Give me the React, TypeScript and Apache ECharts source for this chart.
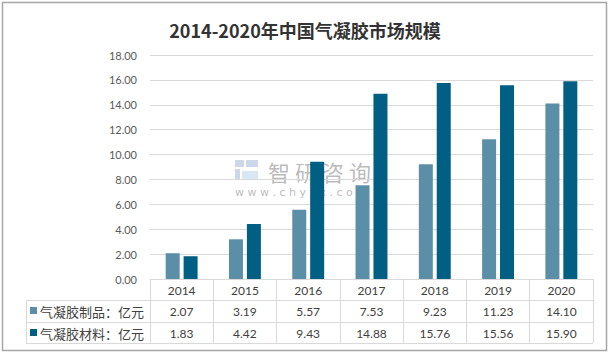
import React, { useEffect, useRef } from "react";
import * as echarts from "echarts";

const years = ["2014", "2015", "2016", "2017", "2018", "2019", "2020"];
const productValues = [2.07, 3.19, 5.57, 7.53, 9.23, 11.23, 14.1];
const materialValues = [1.83, 4.42, 9.43, 14.88, 15.76, 15.56, 15.9];
const seriesNames = ["气凝胶制品：亿元", "气凝胶材料：亿元"];
const seriesColors = ["#5b8fa8", "#005f83"];
const titleText = "2014-2020年中国气凝胶市场规模";
const watermarkChars = ["智", "研", "咨", "询"];

export default function App() {
  const ref = useRef<HTMLDivElement>(null);
  useEffect(() => {
    if (!ref.current) return;
    const chart = echarts.init(ref.current, undefined, { renderer: "svg" });
    const lineColor = "#d9d9d9";
    const numFont = "Lato, 'Noto Sans CJK SC', sans-serif";
    const cjkFont = "'Noto Sans CJK SC', sans-serif";
    const tableLeft = 26;
    const tableRight = 593;
    const wmColor = "rgba(140,140,140,0.6)";
    chart.setOption({
      animation: false,
      backgroundColor: "#ffffff",
      grid: { left: 150, right: 17, top: 55, bottom: 76, containLabel: false },
      xAxis: [
        {
          type: "category",
          data: years,
          position: "bottom",
          axisLine: { show: true, lineStyle: { color: lineColor, width: 1 } },
          axisTick: { show: true, length: 64, lineStyle: { color: lineColor } },
          axisLabel: { color: "#404040", fontSize: 12, margin: 5, fontFamily: numFont },
        },
        {
          type: "category",
          data: productValues.map((v) => v.toFixed(2)),
          position: "bottom",
          offset: 21,
          axisLine: { show: false },
          axisTick: { show: false },
          axisLabel: { color: "#404040", fontSize: 12, margin: 5, fontFamily: numFont },
        },
        {
          type: "category",
          data: materialValues.map((v) => v.toFixed(2)),
          position: "bottom",
          offset: 43,
          axisLine: { show: false },
          axisTick: { show: false },
          axisLabel: { color: "#404040", fontSize: 12, margin: 5, fontFamily: numFont },
        },
      ],
      yAxis: {
        type: "value",
        min: 0,
        max: 18,
        interval: 2,
        axisLine: { show: false },
        axisTick: { show: false },
        splitLine: { lineStyle: { color: lineColor } },
        axisLabel: {
          color: "#595959",
          fontSize: 11,
          margin: 13,
          fontFamily: numFont,
          formatter: (v: number) => v.toFixed(2),
        },
      },
      series: [
        {
          name: seriesNames[0],
          type: "bar",
          data: productValues,
          barWidth: 14,
          barGap: "28%",
          itemStyle: { color: seriesColors[0] },
        },
        {
          name: seriesNames[1],
          type: "bar",
          data: materialValues,
          barWidth: 14,
          itemStyle: { color: seriesColors[1] },
        },
      ],
      graphic: [
        {
          type: "rect",
          shape: { x: 2.5, y: 2.5, width: 604, height: 348 },
          style: { fill: "none", stroke: "#a6a6a6", lineWidth: 1.5 },
          silent: true,
        },
        {
          type: "text",
          x: 305,
          y: 30,
          style: {
            text: titleText,
            fontSize: 18,
            fontWeight: "bold",
            fontFamily: cjkFont,
            fill: "#333333",
            align: "center",
            verticalAlign: "middle",
          },
        },
        // watermark
        {
          type: "group",
          silent: true,
          children: [
            { type: "rect", shape: { x: 235, y: 160, width: 9, height: 7 }, style: { fill: "rgba(170,190,220,0.6)" } },
            { type: "rect", shape: { x: 246, y: 160, width: 12, height: 7 }, style: { fill: "rgba(170,190,220,0.6)" } },
            { type: "rect", shape: { x: 235, y: 169, width: 5, height: 10 }, style: { fill: "rgba(170,190,220,0.6)" } },
            { type: "rect", shape: { x: 242, y: 171, width: 16, height: 8 }, style: { fill: "rgba(190,215,235,0.6)" } },
            ...watermarkChars.map((ch, i) => ({
              type: "text",
              x: 268 + i * 27,
              y: 170.5,
              style: {
                text: ch,
                fontSize: 22,
                fontFamily: cjkFont,
                fill: wmColor,
                verticalAlign: "middle",
              },
            })),
            {
              type: "text",
              x: 235,
              y: 192,
              style: {
                text: "w w w . c h y x x . c o m",
                fontSize: 11,
                fontFamily: "'DejaVu Sans', sans-serif",
                fill: wmColor,
                verticalAlign: "middle",
              },
            },
          ],
        },
        // table lines
        { type: "line", shape: { x1: tableLeft, y1: 300.5, x2: tableRight, y2: 300.5 }, style: { stroke: lineColor, lineWidth: 1 } },
        { type: "line", shape: { x1: tableLeft, y1: 322.5, x2: tableRight, y2: 322.5 }, style: { stroke: lineColor, lineWidth: 1 } },
        { type: "line", shape: { x1: tableLeft, y1: 343.5, x2: tableRight, y2: 343.5 }, style: { stroke: lineColor, lineWidth: 1 } },
        { type: "line", shape: { x1: tableLeft + 0.5, y1: 300, x2: tableLeft + 0.5, y2: 344 }, style: { stroke: lineColor, lineWidth: 1 } },
        // legend keys
        { type: "rect", shape: { x: 30, y: 307, width: 7, height: 7 }, style: { fill: seriesColors[0] } },
        { type: "rect", shape: { x: 30, y: 329, width: 7, height: 7 }, style: { fill: seriesColors[1] } },
        {
          type: "text",
          x: 40,
          y: 311.5,
          style: { text: seriesNames[0], fontSize: 13, fontFamily: cjkFont, fill: "#404040", verticalAlign: "middle" },
        },
        {
          type: "text",
          x: 40,
          y: 333.5,
          style: { text: seriesNames[1], fontSize: 13, fontFamily: cjkFont, fill: "#404040", verticalAlign: "middle" },
        },
      ],
    });
    return () => chart.dispose();
  }, []);
  return (
    <div
      ref={ref}
      style={{ position: "fixed", left: 0, top: 0, width: 610, height: 355 }}
    />
  );
}
